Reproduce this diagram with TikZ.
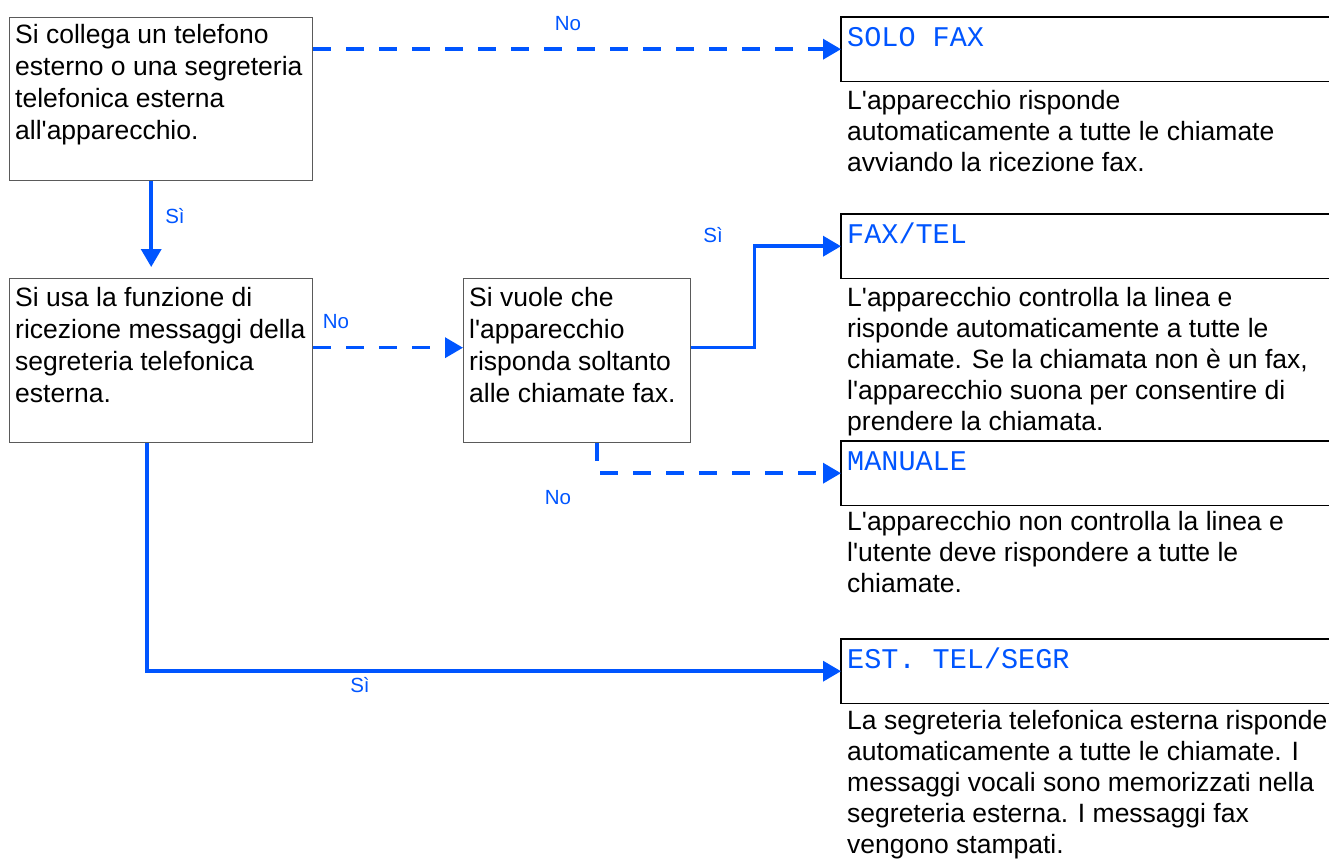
\documentclass[tikz,border=0pt]{standalone}
\usepackage{fontspec}
\newfontfamily\plainsans{Liberation Sans}
\newfontfamily\monofont{Liberation Mono}
\usetikzlibrary{arrows.meta}
\definecolor{flowblue}{RGB}{0,85,255}
\definecolor{boxgray}{RGB}{90,90,90}
\begin{document}
\begin{tikzpicture}[x=1pt,y=-1pt,
  qbox/.style={draw=boxgray, line width=1.4pt, anchor=north west, inner sep=0pt, minimum height=163pt},
  qtext/.style={anchor=north west, inner sep=0pt, align=left, font=\plainsans\fontsize{26.5}{32}\selectfont},
  mbox/.style={anchor=north west, inner sep=0pt, minimum width=488pt, minimum height=64pt},
  mside/.style={draw=black, line width=1.3pt},
  mlabel/.style={anchor=base west, inner sep=0pt, text=flowblue, font=\monofont\fontsize{28.5}{30}\selectfont},
  mdesc/.style={anchor=north west, inner sep=0pt, align=left, font=\plainsans\fontsize{26.5}{31}\selectfont},
  solidarrow/.style={draw=flowblue, line width=3.5pt, -{Triangle[length=18pt,width=20pt]}},
  dasharrow/.style={solidarrow, dash pattern=on 18pt off 15pt},
  answer/.style={text=flowblue, inner sep=0pt, font=\plainsans\fontsize{20.5}{22}\selectfont}
]
\useasboundingbox (0,0) rectangle (1329,859);

% question boxes
\node[qbox, minimum width=303pt] (A) at (9,17) {};
\node[qtext] (Atext) at (15,24) {Si collega un telefono\\esterno o una segreteria\\telefonica esterna\\all'apparecchio.};
\node[qbox, minimum width=303pt, minimum height=164pt] (B) at (9,278) {};
\node[qtext] (Btext) at (15,287) {Si usa la funzione di\\ricezione messaggi della\\segreteria telefonica\\esterna.};
\node[qbox, minimum width=227pt, minimum height=164pt] (C) at (463,278) {};
\node[qtext] (Ctext) at (469,287) {Si vuole che\\l'apparecchio\\risponda soltanto\\alle chiamate fax.};

% mode boxes (open on the right)
\node[mbox] (solo) at (841,17) {};
\node[mbox] (fax) at (841,214) {};
\node[mbox] (man) at (841,441) {};
\node[mbox] (est) at (841,639) {};
\foreach \n in {solo,fax,man,est}{
  \draw[mside] (\n.north east) -- (\n.north west) -- (\n.south west) -- (\n.south east);
}
\node[mlabel] (sololab) at (847,46) {SOLO FAX};
\node[mlabel] (faxlab) at (847,243) {FAX/TEL};
\node[mlabel] (manlab) at (847,470) {MANUALE};
\node[mlabel] (estlab) at (847,668) {EST. TEL/SEGR};

\node[mdesc] (solodesc) at (847,90) {L'apparecchio risponde\\automaticamente a tutte le chiamate\\avviando la ricezione fax.};
\node[mdesc] (faxdesc) at (847,287) {L'apparecchio controlla la linea e\\risponde automaticamente a tutte le\\chiamate. Se la chiamata non è un fax,\\l'apparecchio suona per consentire di\\prendere la chiamata.};
\node[mdesc] (mandesc) at (847,511) {L'apparecchio non controlla la linea e\\l'utente deve rispondere a tutte le\\chiamate.};
\node[mdesc] (estdesc) at (847,710) {La segreteria telefonica esterna risponde\\automaticamente a tutte le chiamate. I\\messaggi vocali sono memorizzati nella\\segreteria esterna. I messaggi fax\\vengono stampati.};

% connectors
\draw[dasharrow] (A.north east |- solo.west) -- (solo.west);
\draw[solidarrow] ([xshift=-10pt]A.south) -- ([xshift=-10pt,yshift=11pt]B.north);
\draw[dasharrow] ([yshift=13pt]B.east) -- ([yshift=13pt]C.west);
\draw[solidarrow] ([yshift=13pt]C.east) -- ++(63,0) |- (fax.west);
\draw[dasharrow] ([xshift=20pt]C.south) |- (man.west);
\draw[solidarrow] ([xshift=-14pt]B.south) |- (est.west);

% answers
\node[answer] (l1) at (568,24) {No};
\node[answer] (l2) at (175,216) {Sì};
\node[answer] (l3) at (336,322) {No};
\node[answer] (l4) at (713,235) {Sì};
\node[answer] (l5) at (558,498) {No};
\node[answer] (l6) at (360,685) {Sì};
\end{tikzpicture}
\end{document}
